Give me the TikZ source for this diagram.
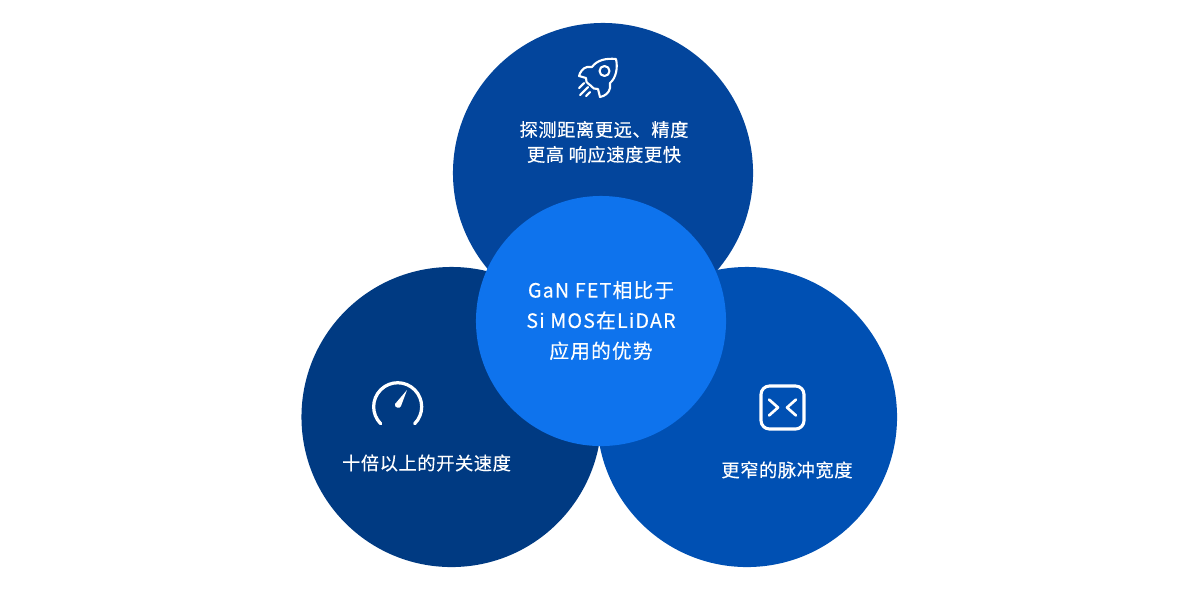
\documentclass[tikz,border=0pt]{standalone}
\usepackage{fontspec}
\setmainfont{Noto Sans CJK SC}
\newfontfamily\smallcjk[FakeBold=0.25,LetterSpace=3]{Noto Sans CJK SC}
\newfontfamily\bigcjk[FakeBold=0.25,LetterSpace=6]{Noto Sans CJK SC}
\definecolor{topblue}{HTML}{03459C}
\definecolor{leftblue}{HTML}{003A82}
\definecolor{rightblue}{HTML}{0050B3}
\definecolor{midblue}{HTML}{0E73ED}
\tikzset{
  disc/.style={circle,inner sep=0pt,minimum size=7.5cm},
  label/.style={text=white,align=center,font=\smallcjk\fontsize{13}{17.7}\selectfont},
  icon/.style={draw=white,line width=1.5pt,line cap=round,line join=round}
}
\begin{document}
\begin{tikzpicture}[x=0.025cm,y=-0.025cm]
\useasboundingbox (0,0) rectangle (1200,608);

% Draw discs
\node[disc,fill=topblue] (top) at (603,173) {};
\node[disc,fill=rightblue] (right) at (747,417) {};
\node[disc,fill=leftblue] (left) at (451.5,417) {};
\node[disc,fill=midblue,minimum size=6.25cm] (mid) at (601,321) {};

% Texts
\node[label] (toptext) at (604,142) {探测距离更远、精度\\更高 响应速度更快};
\node[label] (lefttext) at (426.5,463) {十倍以上的开关速度};
\node[label] (righttext) at (787,470) {更窄的脉冲宽度};
\node[label,font=\bigcjk\fontsize{14}{21.6}\selectfont] (midtext) at (601,320.5) {GaN FET相比于\\Si MOS在LiDAR\\应用的优势};

% Rocket icon
\draw[icon] (616,59) .. controls (606,58) and (597,60) .. (592,67)
  -- (587,67) .. controls (583,68) and (580,72) .. (579,76)
  -- (586,78) .. controls (585,81) and (587,83) .. (590,85)
  .. controls (593,88) and (595,90) .. (598,89)
  -- (600,97) .. controls (605,96) and (609,93) .. (610,88)
  -- (610,83) .. controls (616,78) and (618,68) .. (616,59) -- cycle;
\draw[icon] (604.5,71) circle (5);
\draw[icon] (579,88) -- (584,83) (580,95) -- (588,87) (586,96) -- (590,92);

% Gauge icon
\draw[icon,line width=2.3pt] (380.7,423.7) arc[start angle=135,end angle=405,radius=24];
\fill[white] (407,390) -- (401,406) .. controls (400,409) and (394,408) .. (395,404) -- cycle;

% Pulse icon
\draw[icon,line width=2.2pt,rounded corners=6pt] (761,386) rectangle (804,429);
\draw[icon,line width=1.9pt] (769,399.5) -- (778,407.5) -- (769,415.5) (796,399.5) -- (787,407.5) -- (796,415.5);
\end{tikzpicture}
\end{document}
